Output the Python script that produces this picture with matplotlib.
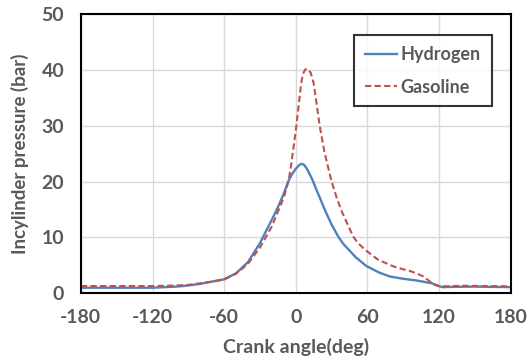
import matplotlib
matplotlib.use("Agg")
import matplotlib.pyplot as plt

# crank angle (deg) and in-cylinder pressure (bar)
h2_angle = [-180, -150, -120, -100, -90, -80, -70, -60, -50, -40, -30, -20, -15, -10, -6,
            -3, 0, 3, 5, 7, 9, 11, 14, 17, 20, 24, 30, 36, 40, 50, 59, 70, 79, 90, 101,
            110, 114, 119, 123, 130, 150, 180]
h2_pres = [1.0, 1.0, 1.0, 1.2, 1.4, 1.7, 2.1, 2.5, 3.6, 5.6, 9.0, 13.2, 15.4, 17.9, 20.2,
           21.4, 22.3, 23.0, 23.2, 23.0, 22.4, 21.6, 20.3, 18.7, 17.2, 15.1, 12.3, 10.0, 8.8,
           6.5, 4.9, 3.7, 3.0, 2.6, 2.3, 1.95, 1.8, 1.35, 1.1, 1.15, 1.2, 1.1]

gas_angle = [-180, -150, -120, -100, -90, -80, -70, -60, -50, -40, -30, -20, -10, -6, -4,
             -2, 0.5, 3, 4.5, 6, 8, 10, 12.5, 15, 17, 20, 24, 30, 34, 38, 42, 48, 52, 58,
             69, 82, 90, 97, 103, 107, 110, 113, 116.5, 120, 125, 140, 160, 180]
gas_pres = [1.3, 1.3, 1.3, 1.4, 1.5, 1.8, 2.1, 2.5, 3.5, 5.3, 8.2, 12.0, 17.2, 20.2, 22.8,
            26.0, 30.0, 34.8, 37.6, 39.3, 40.1, 40.2, 39.5, 37.6, 34.6, 30.0, 25.3, 20.0,
            17.3, 14.9, 13.0, 10.2, 9.0, 7.8, 6.0, 4.8, 4.3, 3.9, 3.4, 3.0, 2.5, 2.0, 1.5,
            1.3, 1.25, 1.35, 1.3, 1.25]

x_ticks = [-180, -120, -60, 0, 60, 120, 180]
y_ticks = [0, 10, 20, 30, 40, 50]

text_color = "#595959"
plt.rcParams["font.family"] = ["Lato", "DejaVu Sans"]
plt.rcParams["axes.unicode_minus"] = False

fig = plt.figure(figsize=(5.32, 3.63), dpi=100)
ax = fig.add_axes([0.152, 0.192, 0.808, 0.769])

ax.plot(h2_angle, h2_pres, color="#4F81BD", lw=1.7, label="Hydrogen")
ax.plot(gas_angle, gas_pres, color="#C0504D", lw=1.5, ls=(0, (3, 1.6)), label="Gasoline")

ax.set_xlim(-180, 180)
ax.set_ylim(0, 50)
ax.set_xticks(x_ticks)
ax.set_yticks(y_ticks)
ax.grid(True, color="#d9d9d9", lw=1)
ax.set_axisbelow(True)
ax.tick_params(length=0, labelsize=14, labelcolor=text_color)
ax.tick_params(axis="x", pad=11)
ax.tick_params(axis="y", pad=12)
for lab in ax.get_xticklabels() + ax.get_yticklabels():
    lab.set_fontweight("bold")
for s in ax.spines.values():
    s.set_color("black")
    s.set_linewidth(1.5)

ax.set_xlabel("Crank angle(deg)", fontsize=14, color=text_color, fontweight="bold", labelpad=9)
ax.set_ylabel("Incylinder pressure (bar)", fontsize=13.5, color=text_color, fontweight="bold", labelpad=9)

leg = ax.legend(loc="upper right", bbox_to_anchor=(0.956, 0.924), fontsize=13,
                frameon=True, fancybox=False, edgecolor="black", handlelength=1.8,
                handletextpad=0.2, labelspacing=0.85, borderpad=0.6, borderaxespad=0)
leg.get_frame().set_linewidth(1.5)
for t in leg.get_texts():
    t.set_color(text_color)
    t.set_fontweight("bold")

fig.savefig("out.png", dpi=100)
